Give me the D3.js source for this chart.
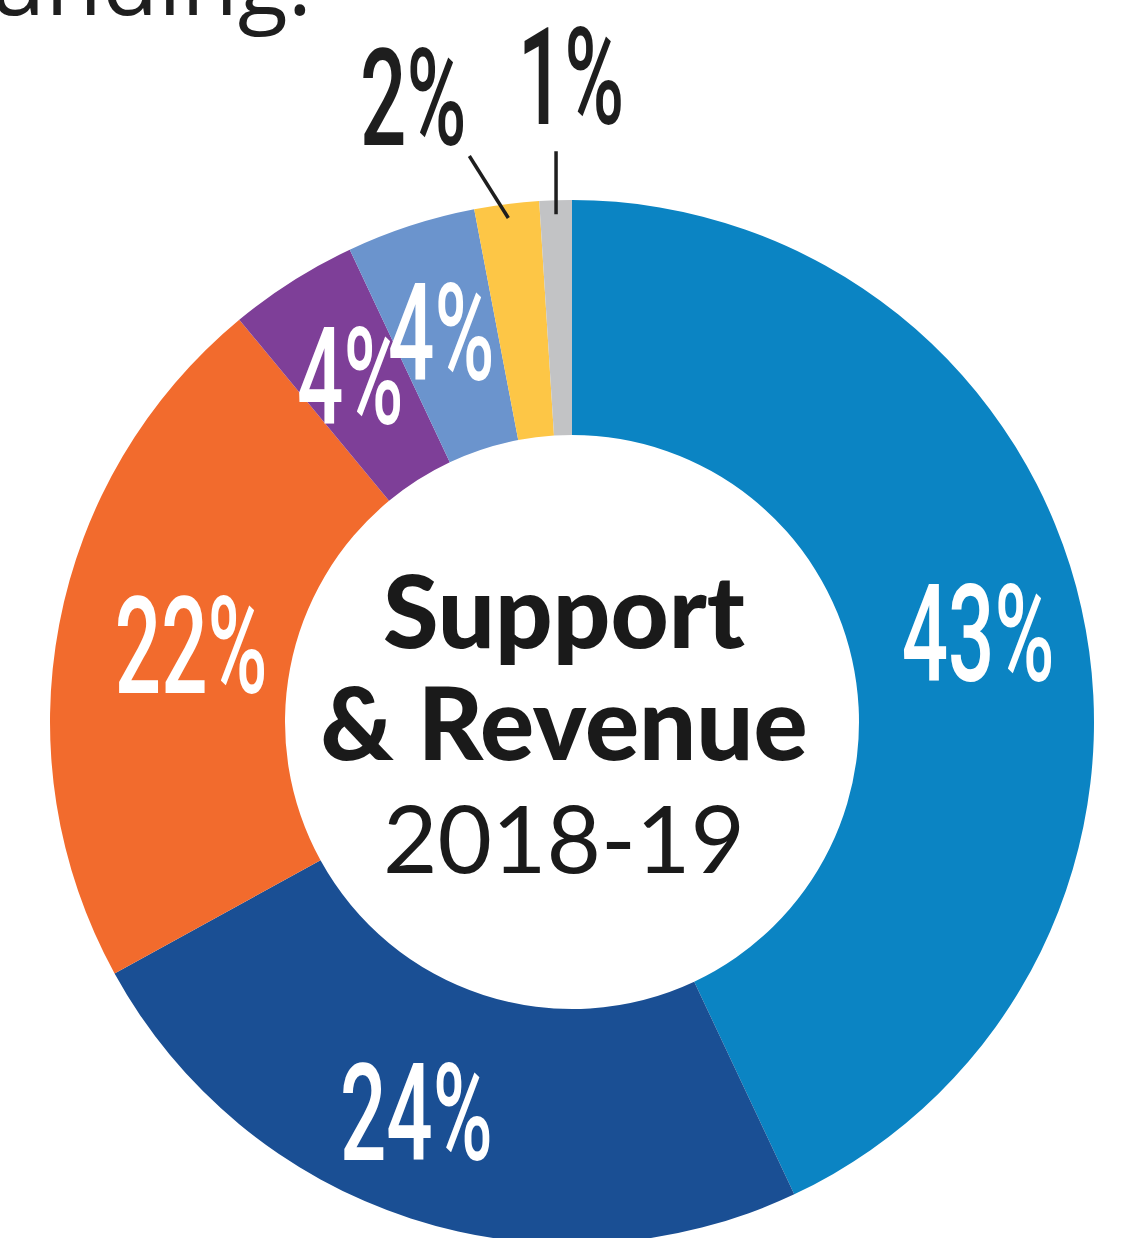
<!DOCTYPE html>
<html>
<head>
<meta charset="utf-8">
<script src="https://cdn.jsdelivr.net/npm/d3@7"></script>
<style>
  body { margin: 0; background: #fff; }
</style>
</head>
<body>
<script>
const categories = ["A", "B", "C", "D", "E", "F", "G"];
const shares = [43, 24, 22, 4, 4, 2, 1];
const labels = ["43%", "24%", "22%", "4%", "4%", "2%", "1%"];
const colors = ["#0b84c3", "#1a4f94", "#f26b2d", "#7e3f98", "#6b94cd", "#fdc646", "#c2c3c5"];
const outside = [false, false, false, false, false, true, true];
const centerLines = ["Support", "& Revenue", "2018-19"];

const W = 1122, H = 1238;
const cx = 572, cy = 722;
const R = 522, r = 287;

const svg = d3.select("body").append("svg")
  .attr("width", W)
  .attr("height", H);

// clipped heading line above the chart
svg.append("text")
  .attr("x", 312)
  .attr("y", 15)
  .attr("font-family", "Open Sans")
  .attr("font-size", 92)
  .style("text-anchor", "end")
  .style("fill", "#1e1e1e")
  .text("funding:");

const g = svg.append("g")
  .attr("transform", `translate(${cx}, ${cy})`);

const data = categories.map((c, i) => ({cat: c, value: shares[i], label: labels[i], color: colors[i], out: outside[i]}));

const pie = d3.pie()
  .sort(null)
  .value((d) => d.value);

const arc = d3.arc()
  .innerRadius(r)
  .outerRadius(R);

const labelArc = d3.arc()
  .innerRadius(410)
  .outerRadius(410);

const arcs = pie(data);

g.selectAll(".slice").data(arcs)
  .enter().append("path")
  .attr("class", "slice")
  .attr("d", arc)
  .attr("fill", (d) => d.data.color);

// condensed look: squeeze glyphs horizontally
const squeeze = 0.6;
const labelSize = 136;
// small hand nudges so labels sit where the print has them
const nudgeX = [6, -29, 22, -2, -4];

g.selectAll(".label-in").data(arcs.filter((d) => !d.data.out))
  .enter().append("text")
  .attr("class", "label-in")
  .attr("transform", (d, i) => {
    const [x, y] = labelArc.centroid(d);
    return `translate(${x + nudgeX[i]}, ${y + 48}) scale(${squeeze}, 1)`;
  })
  .attr("font-family", "Roboto")
  .attr("font-weight", 500)
  .attr("font-size", labelSize)
  .style("text-anchor", "middle")
  .style("fill", "#fff")
  .text((d) => d.data.label);

// outside labels with leader lines
const outArcs = arcs.filter((d) => d.data.out);
const leadOffsets = [[-39, -62], [0, -63]];
const labelOffsets = [[-95, -73], [15, -90]];

outArcs.forEach((d, i) => {
  const a = (d.startAngle + d.endAngle) / 2;
  const x0 = (R - 14) * Math.sin(a);
  const y0 = -(R - 14) * Math.cos(a);
  g.append("line")
    .attr("x1", x0)
    .attr("y1", y0)
    .attr("x2", x0 + leadOffsets[i][0])
    .attr("y2", y0 + leadOffsets[i][1])
    .attr("stroke", "#1e1e1e")
    .attr("stroke-width", 3.5);
  g.append("text")
    .attr("transform", `translate(${x0 + labelOffsets[i][0]}, ${y0 + labelOffsets[i][1]}) scale(${squeeze}, 1)`)
    .attr("font-family", "Roboto")
    .attr("font-weight", 500)
    .attr("font-size", labelSize)
    .style("text-anchor", "middle")
    .style("fill", "#1e1e1e")
    .text(d.data.label);
});

// centre title
const centre = svg.append("g")
  .attr("transform", `translate(${cx - 8}, 0)`);

centre.selectAll(".centre").data(centerLines)
  .enter().append("text")
  .attr("class", "centre")
  .attr("x", 0)
  .attr("y", (d, i) => [648, 760, 873][i])
  .attr("font-family", "Lato")
  .attr("font-weight", (d, i) => i < 2 ? 900 : 400)
  .attr("font-size", (d, i) => i < 2 ? 101 : 94)
  .style("text-anchor", "middle")
  .style("fill", "#1a1a1a")
  .text((d) => d);
</script>
</body>
</html>
